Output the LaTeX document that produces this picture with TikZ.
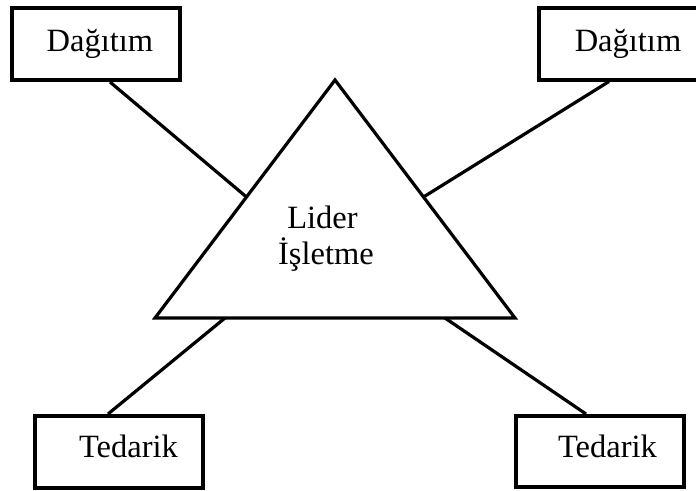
\documentclass[tikz,border=0pt]{standalone}
\usepackage{fontspec}
\setmainfont{Liberation Serif}
\begin{document}
\begin{tikzpicture}[x=1pt,y=-1pt,
  boxnode/.style={draw=black,line width=4pt,inner sep=0pt,minimum width=168pt,minimum height=72pt},
  txt/.style={inner sep=0pt,anchor=base,font=\fontsize{32.5}{38}\selectfont},
  link/.style={draw=black,line width=3.2pt},
  tri/.style={draw=black,line width=3.2pt,line join=miter}]
\clip (0,0) rectangle (696,490);
\fill[white] (0,0) rectangle (696,490);
% boxes
\node[boxnode] (tl) at (96,44) {};
\node[boxnode,minimum width=181pt] (tr) at (629.5,43.5) {};
\node[boxnode] (bl) at (119,452) {};
\node[boxnode,minimum height=71pt] (br) at (600,451.5) {};
\node[txt] (tlt) at (100,51) {Dağıtım};
\node[txt] (trt) at (628,51) {Dağıtım};
\node[txt] (blt) at (128.5,457) {Tedarik};
\node[txt] (brt) at (607.5,457) {Tedarik};
% triangle
\coordinate (apex) at (335,80);
\coordinate (bleft) at (155,318);
\coordinate (bright) at (515,318);
\draw[tri] (bleft) -- (apex) -- (bright) -- cycle;
\node[txt] (lider) at (322.5,228) {Lider};
\node[txt] (isl) at (326,264) {İşletme};
% attachment points
\coordinate (pL) at (246.5,197);
\coordinate (pR) at (423.5,197);
\coordinate (pBL) at (225,318);
\coordinate (pBR) at (445,318);
% connectors
\draw[link] ([xshift=14pt]tl.south) -- (pL);
\draw[link] ([xshift=-20.5pt]tr.south) -- (pR);
\draw[link] (pBL) -- ([xshift=-11pt]bl.north);
\draw[link] (pBR) -- ([xshift=-14pt]br.north);
\end{tikzpicture}
\end{document}
